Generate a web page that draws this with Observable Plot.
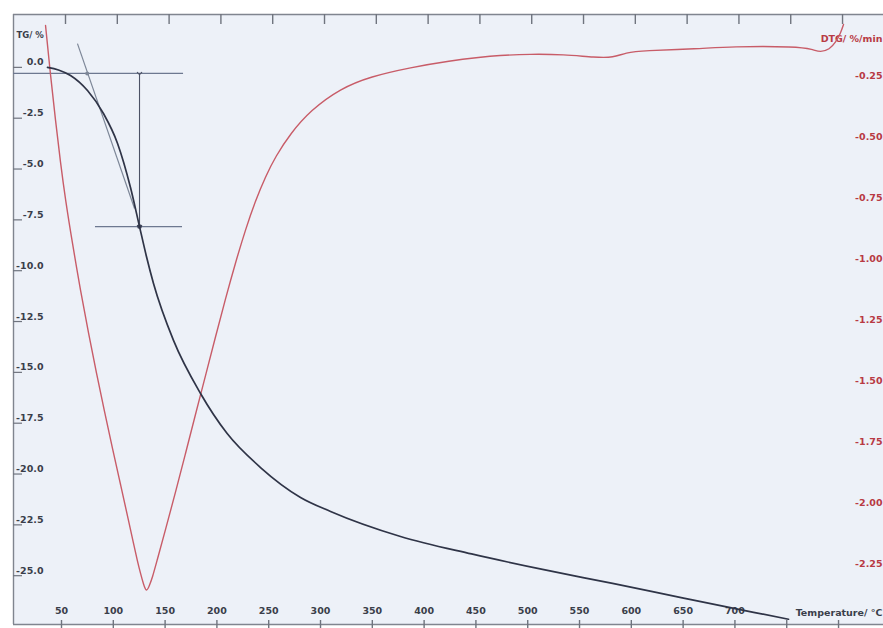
<!DOCTYPE html>
<html>
<head>
<meta charset="utf-8">
<script src="https://cdn.jsdelivr.net/npm/d3@7"></script>
<script src="https://cdn.jsdelivr.net/npm/@observablehq/plot@0.6"></script>
<style>
  html, body { margin: 0; padding: 0; background: #ffffff; }
  #chart svg { display: block; }
</style>
</head>
<body>
<div id="chart"></div>
<script>
// Thermogravimetric run: mass loss (TG, %) and its derivative (DTG, %/min) vs temperature.

// TG curve
const tgTemp = [36.5, 47.1, 58.7, 75.1, 90.5, 104.1, 116.6, 125.3, 132.0, 138.8, 158.1, 184.2, 209.9,
                242.1, 280.7, 309.7, 377.2, 445.8, 514.3, 581.9, 650.4, 718.0, 751.7];
const tgValue = [0.0, -0.13, -0.40, -1.14, -2.27, -3.74, -5.91, -7.83, -9.30, -10.63, -13.43, -16.04, -18.01,
                 -19.68, -21.15, -21.84, -23.07, -23.93, -24.69, -25.38, -26.10, -26.80, -27.14];

// DTG curve
const dtgTemp = [34.6, 39.4, 44.2, 49.0, 53.9, 60.6, 68.3, 76.1, 83.8, 91.5, 99.2, 107.0, 114.7, 119.5,
                 123.4, 126.3, 129.2, 132.0, 134.9, 137.8, 141.7, 150.4, 160.0, 169.7, 179.3, 189.0, 198.7, 208.3,
                 218.0, 227.6, 237.3, 246.9, 256.6, 271.0, 290.3, 319.3, 348.3, 386.9, 425.5,
                 454.4, 470.8, 502.7, 534.6, 565.4, 582.8, 594.4, 611.8, 663.9, 695.8, 760.4,
                 774.9, 782.6, 791.3, 797.1, 801.9, 804.8];
const dtgValue = [-0.045, -0.250, -0.434, -0.607, -0.762, -0.939, -1.131, -1.307, -1.471, -1.627, -1.779, -1.926, -2.074, -2.168,
                  -2.242, -2.291, -2.336, -2.369, -2.340, -2.307, -2.246, -2.111, -1.959, -1.799, -1.639, -1.480, -1.320, -1.164,
                  -1.016, -0.881, -0.762, -0.664, -0.582, -0.488, -0.393, -0.303, -0.254, -0.217, -0.189,
                  -0.175, -0.168, -0.162, -0.164, -0.176, -0.177, -0.156, -0.148, -0.141, -0.131, -0.131,
                  -0.143, -0.155, -0.143, -0.115, -0.078, -0.041];

// Axis ticks
const tempTicks = [50, 100, 150, 200, 250, 300, 350, 400, 450, 500, 550, 600, 650, 700, 750, 800];
const tempLabels = [50, 100, 150, 200, 250, 300, 350, 400, 450, 500, 550, 600, 650, 700];
const tgTicks = [0, -2.5, -5, -7.5, -10, -12.5, -15, -17.5, -20, -22.5, -25];
const dtgTicks = [-0.25, -0.5, -0.75, -1.0, -1.25, -1.5, -1.75, -2.0, -2.25];

// Step evaluation: onset tangent, baseline and mass-loss step
const stepBaseline = -0.30;
const stepLevel = -7.83;
const stepTemp = 125.3;
const baselineRange = [3.67, 167.8];
const levelRange = [82.8, 166.8];
const tangentTemp = [65.4, 120.5];
const tangentValue = [1.17, -6.94];
const onsetTemp = 74.8;

// Scale domains (temperature, TG and the DTG range sharing the same vertical extent)
const tempDomain = [3.67, 843.4];
const tgDomain = [-27.4, 2.6];
const dtgDomain = [-2.5, 0];

const toTG = d3.scaleLinear().domain(dtgDomain).range(tgDomain);

const tg = tgTemp.map((t, i) => ({t, v: tgValue[i]}));
const dtg = dtgTemp.map((t, i) => ({t, v: dtgValue[i]}));

const W = 883, H = 628;
const mTop = 14, mBottom = 4, mLeft = 13, mRight = 0;
const frameH = H - mTop - mBottom;
const frameW = W - mLeft - mRight;

const ink = "#3a3e4a";
const red = "#b83a44";
const frameGray = "#80858f";

const chart = Plot.plot({
  width: W,
  height: H,
  marginTop: mTop,
  marginBottom: mBottom,
  marginLeft: mLeft,
  marginRight: mRight,
  x: {domain: tempDomain, axis: null},
  y: {domain: tgDomain, axis: null},
  style: {background: "#ffffff", fontFamily: "'DejaVu Sans', sans-serif", fontSize: "9.5px", fontWeight: "bold"},
  marks: [
    Plot.frame({fill: "#edf1f8", stroke: null}),

    // frame edges
    Plot.ruleY([tgDomain[1]], {stroke: frameGray, strokeWidth: 1.6}),
    Plot.ruleY([tgDomain[0]], {stroke: frameGray, strokeWidth: 1.4}),
    Plot.ruleX([tempDomain[0]], {stroke: frameGray, strokeWidth: 1.4}),

    // tick marks
    Plot.tickX(tempTicks, {x: d => d, insetBottom: frameH - 10, dx: 4, stroke: "#6f747e", strokeWidth: 1.4}),
    Plot.tickX(tempTicks, {x: d => d, insetTop: frameH - 4, insetBottom: -4, stroke: "#6f747e", strokeWidth: 1.4}),
    Plot.tickY(tgTicks, {y: d => d, insetRight: frameW - 9, stroke: "#6f747e", strokeWidth: 1.2}),

    // tick labels
    Plot.text(tgTicks, {y: d => d, text: d => d.toFixed(1), frameAnchor: "left", textAnchor: "end", dx: 30, dy: -5, fill: ink}),
    Plot.text(dtgTicks, {y: d => toTG(d), text: d => d.toFixed(2), frameAnchor: "right", textAnchor: "end", dx: -1, fill: red}),
    Plot.text(tempLabels, {x: d => d, text: d => String(d), frameAnchor: "bottom", dy: -11, fill: ink}),

    // axis titles
    Plot.text(["TG/ %"], {frameAnchor: "top-left", textAnchor: "start", dx: 3, dy: 17, fill: ink, fontSize: 8.5}),
    Plot.text(["DTG/ %/min"], {frameAnchor: "top-right", textAnchor: "end", dx: -1, dy: 21, fill: red}),
    Plot.text(["Temperature/ °C"], {frameAnchor: "bottom-right", textAnchor: "end", dx: -1, dy: -9, fill: ink}),

    // step evaluation
    Plot.ruleY([stepBaseline], {x1: baselineRange[0], x2: baselineRange[1], stroke: "#6d7890", strokeWidth: 1.2}),
    Plot.ruleY([stepLevel], {x1: levelRange[0], x2: levelRange[1], stroke: "#6d7890", strokeWidth: 1.2}),
    Plot.link([0], {x1: tangentTemp[0], y1: tangentValue[0], x2: tangentTemp[1], y2: tangentValue[1], stroke: "#7d8798", strokeWidth: 1.2}),
    Plot.link([0], {x1: stepTemp, y1: stepBaseline, x2: stepTemp, y2: stepLevel, stroke: "#4c5266", strokeWidth: 1.1, markerStart: "arrow", markerEnd: "arrow"}),
    Plot.dot([0], {x: onsetTemp, y: stepBaseline, r: 2, fill: "#7d8798"}),
    Plot.dot([0], {x: stepTemp, y: stepLevel, r: 2.4, fill: "#3c4258"}),

    // curves
    Plot.line(dtg, {x: "t", y: d => toTG(d.v), stroke: "#c85c68", strokeWidth: 1.4, curve: "basis"}),
    Plot.line(tg, {x: "t", y: "v", stroke: "#2f3447", strokeWidth: 1.7, curve: "monotone-x"})
  ]
});

document.getElementById("chart").appendChild(chart);
</script>
</body>
</html>
